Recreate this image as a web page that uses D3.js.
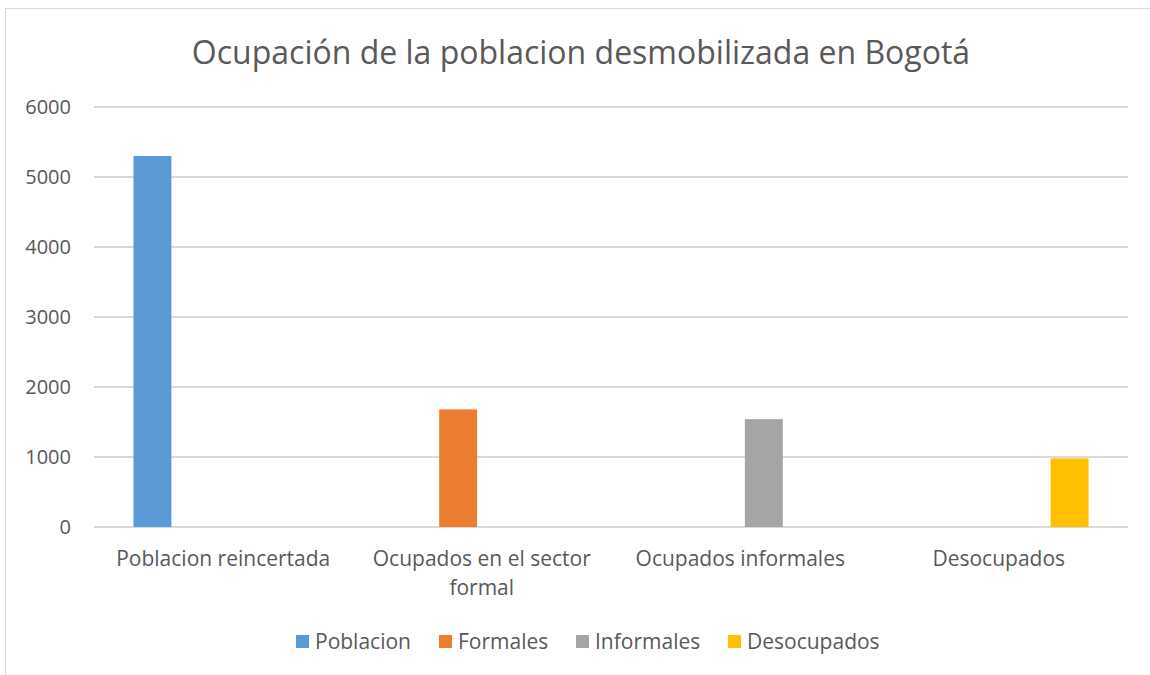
<!DOCTYPE html>
<meta charset="utf-8">
<style>
    body { margin: 0; background: #fff; }
    text { font-family: "Open Sans", sans-serif; fill: #595959; }
    .axis path, .axis line { display: none; }
    .grid line { stroke: #d9d9d9; stroke-width: 1.3; shape-rendering: crispEdges; }
</style>
<svg class="chart"></svg>
<script src="https://cdn.jsdelivr.net/npm/d3@7"></script>
<script>

    const categories = [["Poblacion reincertada"], ["Ocupados en el sector", "formal"], ["Ocupados informales"], ["Desocupados"]];
    const seriesNames = ["Poblacion", "Formales", "Informales", "Desocupados"];
    const colors = ["#5b9bd5", "#ed7d31", "#a5a5a5", "#ffc000"];
    // one row per series, one value per category
    const poblacion = [5300, 0, 0, 0];
    const formales = [0, 1680, 0, 0];
    const informales = [0, 0, 1540, 0];
    const desocupados = [0, 0, 0, 980];
    const yTicks = [0, 1000, 2000, 3000, 4000, 5000, 6000];

    const W = 1150, H = 675;
    const margin = {top: 107, right: 22, bottom: 148, left: 94};
    const width = W - margin.left - margin.right,
        height = H - margin.top - margin.bottom;

    const values = [poblacion, formales, informales, desocupados];
    const catKeys = categories.map(c => c.join(" "));

    const svg = d3.select(".chart").attr("width", W).attr("height", H);

    // outer frame
    svg.append("rect")
        .attr("x", 5.5).attr("y", 8.5)
        .attr("width", 1160).attr("height", 700)
        .attr("fill", "none").attr("stroke", "#d9d9d9");

    const chart = svg.append("g")
        .attr("transform", `translate(${margin.left},${margin.top})`);

    const x0 = d3.scaleBand().domain(catKeys).range([0, width]);
    const x1 = d3.scaleBand().domain(seriesNames)
        .range([0, x0.bandwidth()])
        .paddingInner(0.196).paddingOuter(0.836);
    const y = d3.scaleLinear().domain([0, 6000]).range([height, 0]);

    chart.append("g").attr("class", "grid")
        .selectAll("line").data(yTicks).join("line")
        .attr("x1", 0).attr("x2", width)
        .attr("y1", d => y(d)).attr("y2", d => y(d));

    const yAxis = chart.append("g").attr("class", "axis")
        .call(d3.axisLeft(y).tickValues(yTicks).tickFormat(d3.format("d")).tickSize(0).tickPadding(23));
    yAxis.selectAll("text").style("font-size", "20px").style("fill", "#595959");

    seriesNames.forEach((s, si) => {
        chart.append("g")
            .selectAll("rect")
            .data(values[si].map((v, ci) => ({cat: catKeys[ci], v})).filter(d => d.v > 0))
            .join("rect")
            .attr("x", d => x0(d.cat) + x1(s))
            .attr("width", x1.bandwidth())
            .attr("y", d => y(d.v))
            .attr("height", d => y(0) - y(d.v))
            .attr("fill", colors[si]);
    });

    // category labels (wrapped as in the original)
    const xl = chart.append("g").selectAll("text")
        .data(categories).join("text")
        .attr("x", (d, i) => x0(catKeys[i]) + x0.bandwidth() / 2)
        .attr("y", height + 39)
        .attr("text-anchor", "middle")
        .style("font-size", "21px");
    xl.selectAll("tspan").data(d => d).join("tspan")
        .attr("x", function () { return this.parentNode.getAttribute("x"); })
        .attr("dy", (d, i) => i ? 29 : 0)
        .text(d => d);

    svg.append("text")
        .attr("x", 581).attr("y", 64)
        .attr("text-anchor", "middle")
        .style("font-size", "32px")
        .text("Ocupación de la poblacion desmobilizada en Bogotá");

    // legend
    const legendX = [296, 439, 576, 728];
    const lg = svg.append("g").selectAll("g")
        .data(seriesNames).join("g")
        .attr("transform", (d, i) => `translate(${legendX[i]},635)`);
    lg.append("rect").attr("width", 13).attr("height", 13)
        .attr("fill", (d, i) => colors[i]);
    lg.append("text").attr("x", 19).attr("y", 14)
        .style("font-size", "21px")
        .text(d => d);

</script>
